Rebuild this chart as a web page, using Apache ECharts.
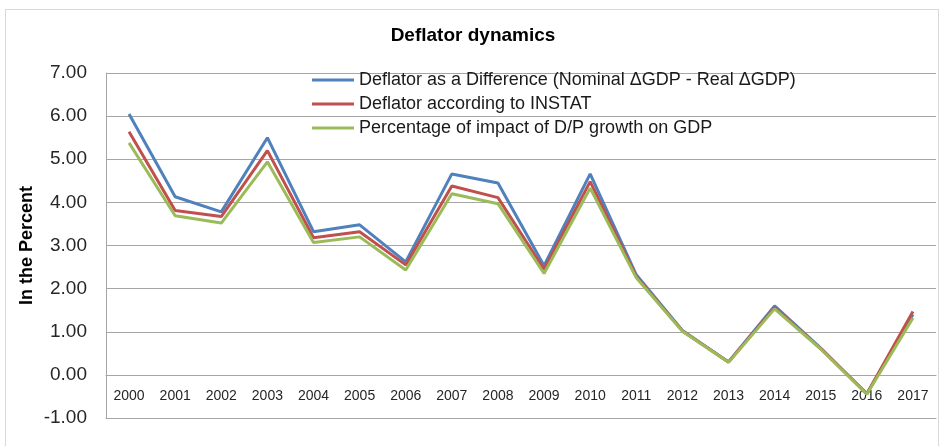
<!DOCTYPE html>
<html>
<head>
<meta charset="utf-8">
<script src="https://cdn.jsdelivr.net/npm/echarts@6/dist/echarts.min.js"></script>
<style>
  html, body { margin: 0; padding: 0; background: #ffffff; }
  #chart { width: 942px; height: 446px; }
</style>
</head>
<body>
<div id="chart"></div>
<script>
// Years on the horizontal axis
const years = ['2000','2001','2002','2003','2004','2005','2006','2007','2008',
               '2009','2010','2011','2012','2013','2014','2015','2016','2017'];

// Deflator as a Difference (Nominal ΔGDP - Real ΔGDP)
const deflatorDifference = [6.05, 4.13, 3.78, 5.50, 3.32, 3.48, 2.62, 4.66, 4.45,
                            2.53, 4.66, 2.32, 1.03, 0.30, 1.60, 0.62, -0.44, 1.40];
// Deflator according to INSTAT
const deflatorInstat = [5.64, 3.81, 3.67, 5.20, 3.18, 3.32, 2.55, 4.38, 4.11,
                        2.45, 4.48, 2.28, 1.02, 0.30, 1.56, 0.61, -0.44, 1.47];
// Percentage of impact of D/P growth on GDP
const impactShare = [5.38, 3.69, 3.52, 4.94, 3.07, 3.20, 2.43, 4.20, 3.97,
                     2.35, 4.33, 2.25, 1.01, 0.29, 1.53, 0.60, -0.45, 1.32];

const seriesNames = [
  'Deflator as a Difference (Nominal ΔGDP - Real ΔGDP)',
  'Deflator according to INSTAT',
  'Percentage of impact of D/P growth on GDP'
];
const seriesColors = ['#4F81BD', '#C0504D', '#9BBB59'];
const seriesData = [deflatorDifference, deflatorInstat, impactShare];

const FONT = '"Liberation Sans", Arial, sans-serif';
const GRID_GRAY = '#a6a6a6';

// Plot area geometry: value axis runs from -1 to 7, so the zero line sits
// one unit above the bottom edge; the category labels hang just under it.
const Y_MIN = -1, Y_MAX = 7;
const GRID_TOP = 73, GRID_BOTTOM = 28, CHART_H = 446;
const plotH = CHART_H - GRID_TOP - GRID_BOTTOM;
const zeroOffset = -plotH * (0 - Y_MIN) / (Y_MAX - Y_MIN);

const chart = echarts.init(document.getElementById('chart'), null, { renderer: 'canvas' });

chart.setOption({
  animation: false,
  backgroundColor: '#ffffff',
  title: {
    text: 'Deflator dynamics',
    left: 473,
    textAlign: 'center',
    top: 26,
    padding: 0,
    textStyle: { fontFamily: FONT, fontSize: 19, fontWeight: 'bold', color: '#000000' }
  },
  graphic: [{
    type: 'rect',
    shape: { x: 5.5, y: 9.5, width: 933, height: 450 },
    style: { fill: 'none', stroke: '#d9d9d9', lineWidth: 1 },
    silent: true,
    z: -1
  }],
  legend: {
    orient: 'vertical',
    left: 312,
    top: 69,
    padding: 0,
    itemWidth: 42,
    itemHeight: 3,
    itemGap: 2,
    icon: 'rect',
    textStyle: { fontFamily: FONT, fontSize: 18, lineHeight: 22, color: '#1a1a1a' },
    data: seriesNames
  },
  grid: { left: 106, right: 6, top: GRID_TOP, bottom: GRID_BOTTOM, containLabel: false },
  xAxis: [{
    // category axis drawn along the zero line
    type: 'category',
    data: years,
    boundaryGap: true,
    offset: zeroOffset,
    axisLine: { show: true, onZero: false, lineStyle: { color: GRID_GRAY, width: 1 } },
    axisTick: { show: false },
    axisLabel: { margin: 14, fontFamily: FONT, fontSize: 14, color: '#262626' },
    splitLine: { show: false }
  }, {
    // bottom edge of the plot area (the -1.00 line)
    type: 'category',
    data: years,
    position: 'bottom',
    boundaryGap: true,
    axisLine: { show: true, onZero: false, lineStyle: { color: GRID_GRAY, width: 1 } },
    axisTick: { show: false },
    axisLabel: { show: false },
    splitLine: { show: false }
  }],
  yAxis: {
    type: 'value',
    min: Y_MIN,
    max: Y_MAX,
    interval: 1,
    name: 'In the Percent',
    nameLocation: 'middle',
    nameGap: 70,
    nameMoveOverlap: false,
    nameTextStyle: { fontFamily: FONT, fontSize: 18, fontWeight: 'bold', color: '#000000' },
    axisLine: { show: true, lineStyle: { color: GRID_GRAY, width: 1 } },
    axisTick: { show: false },
    axisLabel: {
      margin: 19,
      fontFamily: FONT,
      fontSize: 19,
      color: '#262626',
      formatter: v => v.toFixed(2)
    },
    splitLine: { show: true, lineStyle: { color: GRID_GRAY, width: 1 } }
  },
  series: seriesData.map((d, i) => ({
    name: seriesNames[i],
    type: 'line',
    xAxisIndex: 0,
    data: d,
    symbol: 'none',
    smooth: false,
    color: seriesColors[i],
    lineStyle: { width: 3, color: seriesColors[i] },
    z: 2 + i
  }))
});
</script>
</body>
</html>
